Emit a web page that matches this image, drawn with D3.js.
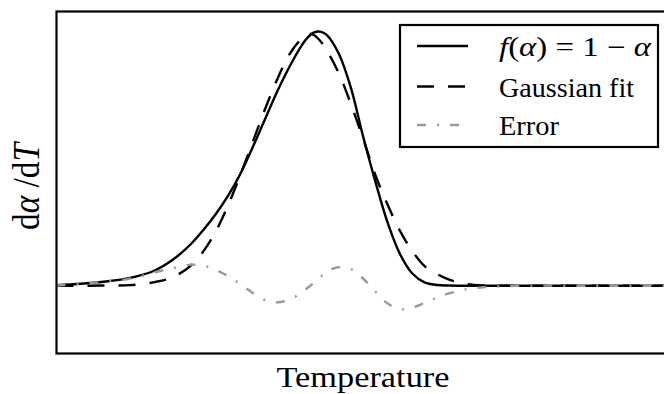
<!DOCTYPE html>
<html>
<head>
<meta charset="utf-8">
<script src="https://cdn.jsdelivr.net/npm/d3@7"></script>
<style>
  html, body { margin: 0; padding: 0; background: #fff; }
  svg { display: block; }
  text { font-family: "Liberation Serif", "DejaVu Serif", serif; fill: #000; }
</style>
</head>
<body>
<svg id="chart" width="664" height="394"></svg>
<script>
// Temperature grid (arbitrary units) and the three curves sampled on it
const temperature = [0, 4, 8, 12, 16, 19, 22, 24, 26, 28, 30, 32, 34, 36, 38, 40, 41, 42, 43, 44,
  46, 48, 50, 52, 54, 56, 58, 60, 62, 64, 67, 70, 75, 85, 100];

// first-order model f(alpha) = 1 - alpha, normalised rate d(alpha)/dT
const rateFirstOrder = [0.002, 0.008, 0.0165, 0.031, 0.060, 0.103, 0.166, 0.221, 0.283, 0.355,
  0.441, 0.545, 0.655, 0.764, 0.861, 0.945, 0.976, 0.995, 0.998, 0.986,
  0.912, 0.776, 0.584, 0.407, 0.246, 0.124, 0.048, 0.013, 0.003, 0.001,
  0, 0, 0, 0, 0];

// symmetric Gaussian fitted to the rate curve
const gaussianFit = [0, 0, 0.001, 0.0024, 0.0145, 0.034, 0.081, 0.137, 0.215, 0.318,
  0.437, 0.566, 0.694, 0.812, 0.910, 0.972, 0.990, 0.984, 0.961, 0.927,
  0.835, 0.713, 0.576, 0.433, 0.317, 0.215, 0.136, 0.077, 0.046, 0.024,
  0.006, 0.001, 0, 0, 0];

// residual between model and fit
const fitError = [0.001, 0.007, 0.0165, 0.028, 0.053, 0.0695, 0.083, 0.0785, 0.062, 0.037,
  0.0055, -0.028, -0.056, -0.065, -0.054, -0.026, -0.007, 0.013, 0.034, 0.055,
  0.073, 0.065, 0.0275, -0.023, -0.070, -0.092, -0.086, -0.067, -0.046, -0.030,
  -0.0126, -0.0055, 0, 0, 0];

const seriesNames = ["f(α) = 1 − α", "Gaussian fit", "Error"];
const xTitle = "Temperature";

const svg = d3.select("#chart");

// plot frame: the right edge sits just past the visible canvas
const plot = { left: 56.5, right: 670, top: 11.5, bottom: 353.5 };

const x = d3.scaleLinear().domain([0, 100]).range([plot.left, plot.right]);
const y = d3.scaleLinear().domain([-0.266, 1.077]).range([plot.bottom, plot.top]);

svg.append("defs").append("clipPath").attr("id", "plot-clip")
  .append("rect")
  .attr("x", plot.left).attr("y", plot.top)
  .attr("width", plot.right - plot.left).attr("height", plot.bottom - plot.top);

const line = values => d3.line()
  .x((d, i) => x(temperature[i]))
  .y(d => y(d))
  .curve(d3.curveCatmullRom.alpha(0.5))(values);

const styles = [
  { values: rateFirstOrder, stroke: "#000", dash: null },
  { values: gaussianFit, stroke: "#000", dash: "17,14" },
  { values: fitError, stroke: "#999", dash: "9,11,2,11" }
];

const curves = svg.append("g").attr("clip-path", "url(#plot-clip)");
styles.forEach(s => {
  curves.append("path")
    .attr("d", line(s.values))
    .attr("fill", "none")
    .attr("stroke", s.stroke)
    .attr("stroke-width", 2.4)
    .attr("stroke-dasharray", s.dash);
});

// frame
svg.append("rect")
  .attr("x", plot.left).attr("y", plot.top)
  .attr("width", plot.right - plot.left).attr("height", plot.bottom - plot.top)
  .attr("fill", "none").attr("stroke", "#000").attr("stroke-width", 2.2);

// axis titles
svg.append("text")
  .attr("x", 363).attr("y", 387)
  .attr("text-anchor", "middle")
  .attr("font-size", 29)
  .attr("textLength", 173)
  .attr("lengthAdjust", "spacingAndGlyphs")
  .text(xTitle);

const yTitle = svg.append("text")
  .attr("transform", "translate(39,186.5) scale(1.3,1) rotate(-90)")
  .attr("text-anchor", "middle")
  .attr("font-size", 29)
  .attr("textLength", 87)
  .attr("lengthAdjust", "spacingAndGlyphs");
yTitle.append("tspan").text("d");
yTitle.append("tspan").attr("font-style", "italic").text("α");
yTitle.append("tspan").text(" /d");
yTitle.append("tspan").attr("font-style", "italic").text("T");

// legend
const legend = svg.append("g");
legend.append("rect")
  .attr("x", 400).attr("y", 25).attr("width", 258).attr("height", 122)
  .attr("fill", "#fff").attr("stroke", "#000").attr("stroke-width", 2.2);

const rowY = [46, 86.5, 125];
const textWidths = [152, 135, 60];
styles.forEach((s, i) => {
  legend.append("line")
    .attr("x1", 417).attr("x2", 468)
    .attr("y1", rowY[i]).attr("y2", rowY[i])
    .attr("stroke", s.stroke).attr("stroke-width", 2.4)
    .attr("stroke-dasharray", s.dash);
  const t = legend.append("text")
    .attr("x", 499).attr("y", rowY[i] + 10)
    .attr("font-size", 27)
    .attr("textLength", textWidths[i])
    .attr("lengthAdjust", "spacingAndGlyphs");
  if (i === 0) {
    // f(α) = 1 − α with italic symbols
    t.append("tspan").attr("font-style", "italic").text("f");
    t.append("tspan").text("(");
    t.append("tspan").attr("font-style", "italic").text("α");
    t.append("tspan").text(") = 1 − ");
    t.append("tspan").attr("font-style", "italic").text("α");
  } else {
    t.text(seriesNames[i]);
  }
});
</script>
</body>
</html>
